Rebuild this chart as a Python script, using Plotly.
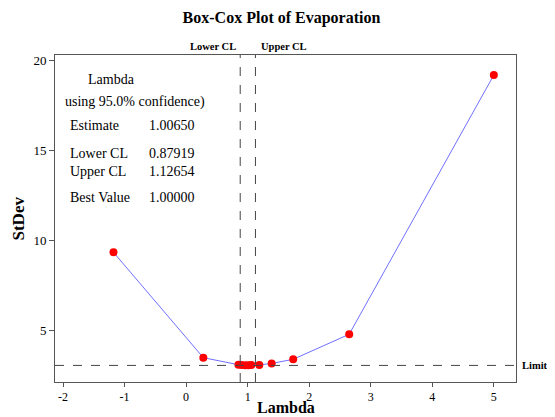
import plotly.graph_objects as go

lambdas = [-1.18, 0.28, 0.85, 0.90, 0.96, 1.01, 1.06, 1.19, 1.39, 1.74, 2.65, 5.0]
stdevs = [9.33, 3.48, 3.09, 3.07, 3.06, 3.06, 3.07, 3.08, 3.16, 3.39, 4.78, 19.17]
limit = 3.05
lower_cl = 0.87919
upper_cl = 1.12654
x_ticks = [-2, -1, 0, 1, 2, 3, 4, 5]
x_ticktext = ["-2", "-1", "0", "1", "2", "3", "4", "5"]
y_ticks = [5, 10, 15, 20]

info_labels = ["Estimate", "Lower CL", "Upper CL", "Best Value"]
info_values = ["1.00650", "0.87919", "1.12654", "1.00000"]
info_y = [16.39, 14.83, 13.83, 12.39]

FONT = "Liberation Serif"

fig = go.Figure()
fig.add_trace(go.Scatter(
    x=lambdas, y=stdevs, mode="lines+markers",
    line=dict(color="#7070ff", width=1),
    marker=dict(color="#ff0000", size=8),
    showlegend=False, hoverinfo="x+y",
))

# reference lines
fig.add_shape(type="line", xref="x", yref="paper", x0=lower_cl, x1=lower_cl, y0=0, y1=1,
              line=dict(color="#444", width=1, dash="dash"))
fig.add_shape(type="line", xref="x", yref="paper", x0=upper_cl, x1=upper_cl, y0=0, y1=1,
              line=dict(color="#444", width=1, dash="dash"))
fig.add_shape(type="line", xref="paper", yref="y", x0=0, x1=1, y0=limit, y1=limit,
              line=dict(color="#444", width=1, dash="dash"))

ann = []
ann.append(dict(x=lower_cl, y=1, xref="x", yref="paper", text="<b>Lower CL</b>", showarrow=False,
                xanchor="right", yanchor="bottom", xshift=-2, yshift=1, font=dict(family=FONT, size=10.5, color="black")))
ann.append(dict(x=upper_cl, y=1, xref="x", yref="paper", text="<b>Upper CL</b>", showarrow=False,
                xanchor="left", yanchor="bottom", xshift=4, yshift=1, font=dict(family=FONT, size=10.5, color="black")))
ann.append(dict(x=1, y=limit, xref="paper", yref="y", text="<b>Limit</b>", showarrow=False,
                xanchor="left", yanchor="middle", xshift=4, font=dict(family=FONT, size=10.5, color="black")))

# axis titles
ann.append(dict(x=0.5, y=0, xref="paper", yref="paper", text="<b>Lambda</b>", showarrow=False,
                xanchor="center", yanchor="middle", yshift=-25, font=dict(family=FONT, size=16, color="black")))
ann.append(dict(x=0, y=0.5, xref="paper", yref="paper", text="<b>StDev</b>", showarrow=False, textangle=-90,
                xanchor="center", yanchor="middle", xshift=-37, font=dict(family=FONT, size=17, color="black")))

ann.append(dict(x=-1.22, y=18.94, xref="x", yref="y", text="Lambda", showarrow=False,
                xanchor="center", yanchor="middle", font=dict(family=FONT, size=14, color="black")))
ann.append(dict(x=-2.0, y=17.67, xref="x", yref="y", text="using 95.0% confidence)", showarrow=False,
                xanchor="left", yanchor="middle", font=dict(family=FONT, size=14, color="black")))
for lab, val, yy in zip(info_labels, info_values, info_y):
    ann.append(dict(x=-1.92, y=yy, xref="x", yref="y", text=lab, showarrow=False,
                    xanchor="left", yanchor="middle", font=dict(family=FONT, size=14, color="black")))
    ann.append(dict(x=-0.63, y=yy, xref="x", yref="y", text=val, showarrow=False,
                    xanchor="left", yanchor="middle", font=dict(family=FONT, size=14, color="black")))

fig.update_layout(
    width=547, height=409,
    margin=dict(l=47, r=39, t=47, b=35, autoexpand=False),
    paper_bgcolor="white", plot_bgcolor="white",
    title=dict(text="<b>Box-Cox Plot of Evaporation</b>", x=0.5, xanchor="center", y=0.976, yanchor="middle",
               font=dict(family=FONT, size=16, color="black")),
    annotations=ann,
    font=dict(family=FONT, color="black"),
)
fig.update_xaxes(range=[-2.13, 5.36], tickvals=x_ticks, ticktext=x_ticktext, ticks="outside", ticklen=4,
                 tickcolor="#555", automargin=False,
                 showline=True, linecolor="#555", linewidth=1, mirror=True, showgrid=False, zeroline=False,
                 tickfont=dict(family=FONT, size=12, color="black"))
fig.update_yaxes(range=[2.13, 20.28], tickvals=y_ticks, ticks="outside", ticklen=5, tickcolor="#555",
                 automargin=False,
                 showline=True, linecolor="#555", linewidth=1, mirror=True, showgrid=False, zeroline=False,
                 tickfont=dict(family=FONT, size=13, color="black"))

fig.write_html("out.html")
